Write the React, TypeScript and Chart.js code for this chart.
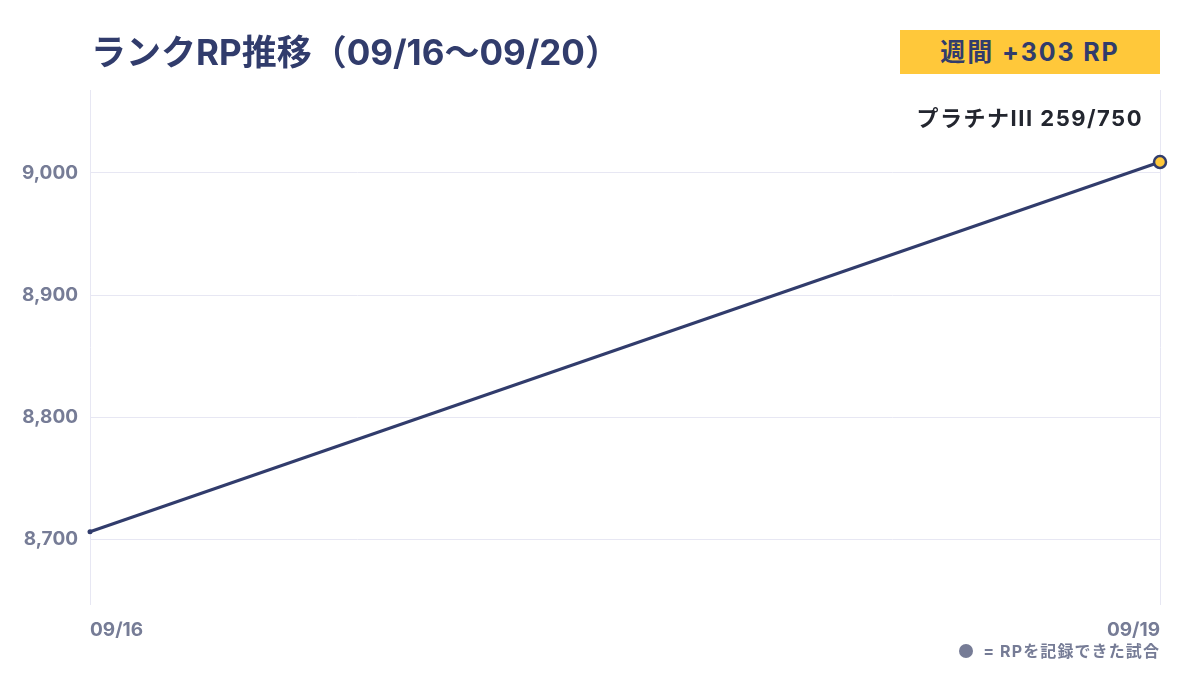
import { useEffect, useRef } from "react";
import { Chart, registerables } from "chart.js";

Chart.register(...registerables);

const dates = ["09/16", "09/19"];
const rp = [8706, 9009];
const yMin = 8646;
const yMax = 9068;

const NAVY = "#313c6c";
const YELLOW = "#ffc83a";
const GRID = "#e7e7f3";
const MUTED = "#767c96";
const FONT = "Inter, 'Noto Sans CJK JP', sans-serif";

export default function App() {
  const canvasRef = useRef<HTMLCanvasElement>(null);
  const chartRef = useRef<Chart | null>(null);

  useEffect(() => {
    document.body.style.margin = "0";
    if (!canvasRef.current) return;
    if (chartRef.current) chartRef.current.destroy();

    chartRef.current = new Chart(canvasRef.current, {
      type: "line",
      data: {
        labels: dates,
        datasets: [
          {
            data: rp,
            borderColor: NAVY,
            borderWidth: 3,
            tension: 0,
            clip: false,
            pointRadius: [2.5, 6],
            pointBackgroundColor: [NAVY, YELLOW],
            pointBorderColor: NAVY,
            pointBorderWidth: [0, 2.5],
          },
        ],
      },
      options: {
        animation: false,
        responsive: true,
        maintainAspectRatio: false,
        layout: { padding: { left: 10, right: 40, top: 90, bottom: 30 } },
        plugins: {
          legend: { display: false },
          tooltip: { enabled: false },
        },
        scales: {
          x: {
            type: "category",
            offset: false,
            afterFit: (s: any) => {
              s.height = 40;
            },
            border: { display: false },
            grid: { color: GRID, drawTicks: false },
            ticks: {
              align: "inner",
              padding: 14,
              color: MUTED,
              font: { family: FONT, size: 19, weight: "bold" },
            },
          },
          y: {
            min: yMin,
            max: yMax,
            afterFit: (s: any) => {
              s.width = 80;
            },
            border: { display: false },
            grid: { color: GRID, drawTicks: false },
            ticks: {
              stepSize: 100,
              includeBounds: false,
              padding: 12,
              color: MUTED,
              font: { family: FONT, size: 19, weight: "bold" },
              callback: (v: any) => Number(v).toLocaleString("en-US"),
            },
          },
        },
      },
    });

    return () => {
      chartRef.current?.destroy();
      chartRef.current = null;
    };
  }, []);

  return (
    <div style={{ position: "relative", width: 1200, height: 675, background: "#fff", fontFamily: FONT }}>
      <canvas ref={canvasRef} />
      <div
        style={{
          position: "absolute",
          left: 91,
          top: 30,
          height: 44,
          lineHeight: "44px",
          fontSize: 35,
          fontWeight: 700,
          color: NAVY,
          whiteSpace: "nowrap",
        }}
      >
        ランクRP推移（09/16〜09/20）
      </div>
      <div
        style={{
          position: "absolute",
          left: 900,
          top: 30,
          width: 260,
          height: 44,
          lineHeight: "44px",
          background: YELLOW,
          textAlign: "center",
          fontSize: 25,
          fontWeight: 700,
          letterSpacing: 1.9,
          color: NAVY,
        }}
      >
        週間 +303 RP
      </div>
      <div
        style={{
          position: "absolute",
          right: 57,
          top: 103,
          height: 30,
          lineHeight: "30px",
          fontSize: 22,
          fontWeight: 700,
          letterSpacing: 1.5,
          color: "#23262f",
          whiteSpace: "nowrap",
        }}
      >
        プラチナIII 259/750
      </div>
      <div
        style={{
          position: "absolute",
          right: 40,
          top: 640,
          height: 22,
          lineHeight: "22px",
          fontSize: 16,
          fontWeight: 700,
          letterSpacing: 1.1,
          color: MUTED,
          whiteSpace: "nowrap",
          display: "flex",
          alignItems: "center",
        }}
      >
        <span
          style={{
            display: "inline-block",
            width: 14,
            height: 14,
            borderRadius: 7,
            background: MUTED,
            marginRight: 10,
          }}
        />
        = RPを記録できた試合
      </div>
    </div>
  );
}
